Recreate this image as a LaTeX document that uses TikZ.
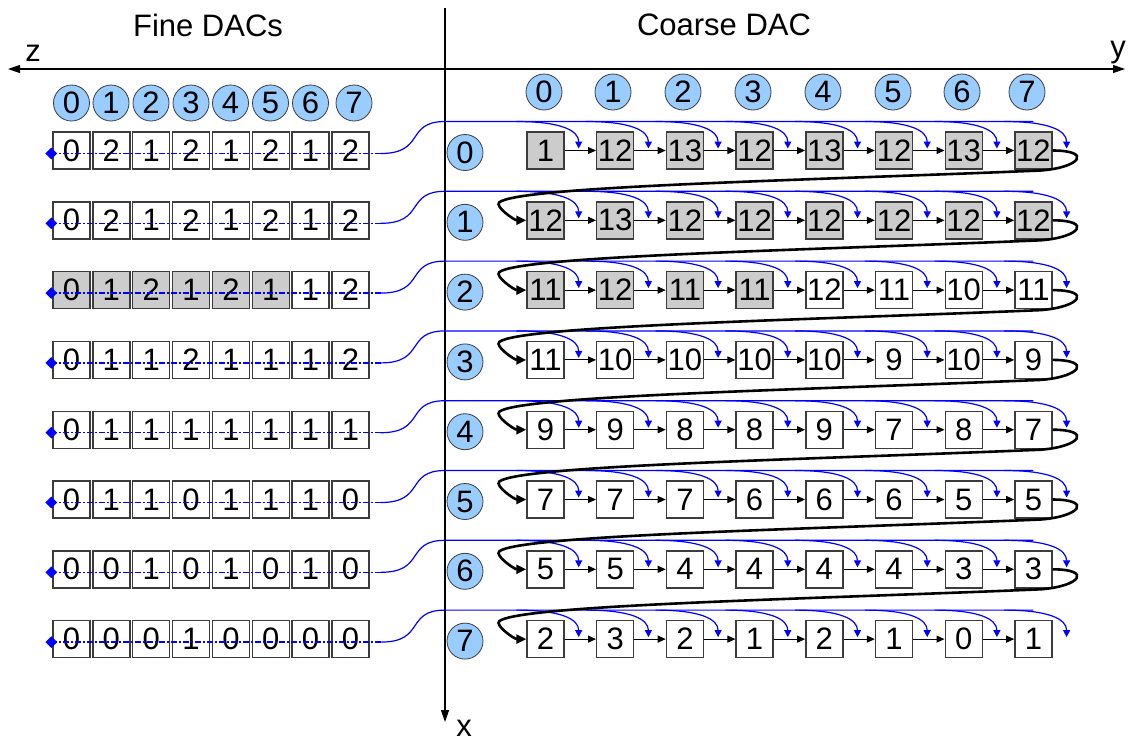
\documentclass[tikz,border=0pt]{standalone}
\usepackage{fontspec}
\setmainfont{Liberation Sans}
\usetikzlibrary{arrows.meta,calc,shapes.geometric}
\definecolor{LightBlue}{RGB}{153,204,255}
\definecolor{BoxGray}{RGB}{204,204,204}
\definecolor{LineGray}{RGB}{60,60,60}

\begin{document}
\begin{tikzpicture}[x=0.5pt, y=-0.5pt,
	font=\fontsize{15.5}{18}\selectfont,
	cell/.style={draw=LineGray, line width=0.7pt, minimum size=18.5pt, inner sep=0pt},
	idx/.style={circle, draw=LineGray, line width=0.4pt, fill=LightBlue, minimum size=18pt, inner sep=0pt},
	dmark/.style={diamond, fill=blue, inner sep=0pt, minimum size=6pt},
	scan/.style={blue, line width=0.7pt, dash pattern=on 3pt off 1pt on 1pt off 1pt},
	feed/.style={blue, line width=0.6pt},
	tap/.style={blue, line width=0.6pt, -{Triangle[length=3.5pt,width=3.5pt]}},
	nxt/.style={black, line width=0.5pt, -{Triangle[length=4pt,width=3.5pt]}},
	wrap/.style={black, line width=1.3pt, -{Triangle[length=5pt,width=4.5pt]}},
	axis/.style={black, line width=0.6pt}]
	\useasboundingbox (0,0) rectangle (1128,741);
	
	% axes
	\coordinate (ax-l) at (8,69);
	\coordinate (ax-r) at (1125,69);
	\coordinate (ax-t) at (445,8);
	\coordinate (ax-b) at (445,722);
	\draw[axis, {Triangle[length=6pt,width=4pt]}-{Triangle[length=6pt,width=4pt]}] (ax-l) -- (ax-r);
	\draw[axis, -{Triangle[length=6pt,width=4pt]}] (ax-t) -- (ax-b);
	\node (lz) at (33,53) {z};
	\node (ly) at (1118,53) {y};
	\node[inner sep=0pt] (lx) at (464,728) {x};
	\node (hfine) at (208,25) {Fine DACs};
	\node (hcoarse) at (724,25) {Coarse DAC};
	
	% column indices
	\foreach \c/\xx in {0/71.5,1/111,2/151,3/191,4/230.5,5/270.5,6/310.5,7/354}
		\node[idx] (fz\c) at (\xx,103) {\c};
	\foreach \c/\xx in {0/544,1/613,2/683,3/753,4/823,5/893,6/962,7/1027}
		\node[idx] (cy\c) at (\xx,92) {\c};
	
	% fine DACs
	\foreach \r/\ng/\vals in {0/0/{0,2,1,2,1,2,1,2},1/0/{0,2,1,2,1,2,1,2},
		2/6/{0,1,2,1,2,1,1,2},3/0/{0,1,1,2,1,1,1,2},4/0/{0,1,1,1,1,1,1,1},
		5/0/{0,1,1,0,1,1,1,0},6/0/{0,0,1,0,1,0,1,0},7/0/{0,0,0,1,0,0,0,0}}{
		\pgfmathsetmacro\yy{150.5+69.8*\r}
		\foreach \v [count=\c from 0] in \vals{
			\ifnum\c<\ng\relax\def\bfill{BoxGray}\else\def\bfill{white}\fi
			\node[cell, fill=\bfill] (f\r-\c) at (71.5+39.85*\c,\yy) {\v};
		}
		\node[dmark] (d\r) at ($(f\r-0.west)+(-1,3)$) {};
		\coordinate (e\r) at ($(f\r-7.east)+(11,3)$);
		\draw[scan] (d\r.center) -- (e\r);
	}
	
	% coarse DAC
	\foreach \r/\ng/\vals in {0/8/{1,12,13,12,13,12,13,12},1/8/{12,13,12,12,12,12,12,12},
		2/4/{11,12,11,11,12,11,10,11},3/0/{11,10,10,10,10,9,10,9},4/0/{9,9,8,8,9,7,8,7},
		5/0/{7,7,7,6,6,6,5,5},6/0/{5,5,4,4,4,4,3,3},7/0/{2,3,2,1,2,1,0,1}}{
		\pgfmathsetmacro\yy{150.5+69.8*\r}
		\node[idx] (rx\r) at (465,\yy+2) {\r};
		\foreach \v [count=\c from 0] in \vals{
			\ifnum\c<\ng\relax\def\bfill{BoxGray}\else\def\bfill{white}\fi
			\node[cell, fill=\bfill] (c\r-\c) at (545.5+69.7*\c,\yy) {\v};
		}
		\foreach \c [count=\n from 1] in {0,...,6}
			\draw[nxt] (c\r-\c.east) -- (c\r-\n.west);
		% blue feed from fine row
		\coordinate (t\r) at (445,\yy-29);
		\draw[feed] (e\r) .. controls +(45,0) and +(-40,0) .. (t\r) -- (c\r-7.center |- t\r);
		\foreach \c in {0,...,7}
			\draw[tap] ($(c\r-\c.west |- t\r)+(-10,0)$) .. controls +(45,0) and +(0,-18) .. ($(c\r-\c.east)+(14,-2)$);
	}
	
	% row wrap-around
	\foreach \r [count=\n from 1] in {0,...,6}
		\draw[wrap] (c\r-7.east) .. controls +(40,0) and +(40,-3) .. ($(c\r-7.east)+(-12,20)$)
			.. controls +(-240,10) and +(20,-16) .. ($(c\n-0.west)+(-27,-18)$)
			.. controls +(-5,4) and +(-12,0) .. (c\n-0.west);
\end{tikzpicture}
\end{document}
